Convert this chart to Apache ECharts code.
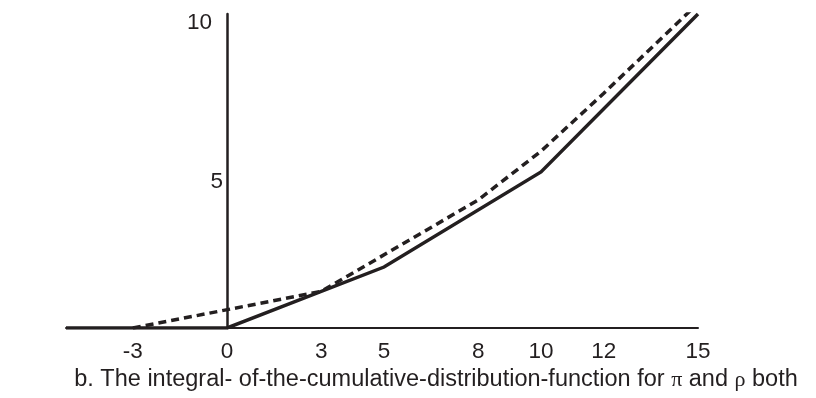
<!DOCTYPE html>
<html>
<head>
<meta charset="utf-8">
<script src="https://cdn.jsdelivr.net/npm/echarts@6/dist/echarts.min.js"></script>
<style>html,body{margin:0;padding:0;background:#fff;}#c{width:816px;height:398px;}</style>
</head>
<body>
<div id="c"></div>
<script>
const xTickLabels = [-3, 0, 3, 5, 8, 10, 12, 15];
const yTickLabels = [5, 10];
const solidX = [-5.13, 0, 5, 10, 15];
const solidY = [0, 0, 2.0, 5.12, 10.3];
const dashedX = [-3, 3, 8, 10, 12, 15];
const dashedY = [0, 1.2, 4.2, 5.8, 7.7, 10.65];
const caption = 'b. The integral- of-the-cumulative-distribution-function for {g|π} and {g|ρ} both';

const ink = '#231f20';
const xMin = -5.13;
const chart = echarts.init(document.getElementById('c'));
const gridLeft = 66, gridRight = 118;
const plotW = 816 - gridLeft - gridRight;
const zeroOffset = -plotW * (0 - xMin) / (15 - xMin);
chart.setOption({
  animation: false,
  grid: { left: gridLeft, right: gridRight, top: 14, bottom: 70 },
  title: {
    text: caption,
    left: 431, top: 363, textAlign: 'center',
    textStyle: {
      fontFamily: 'Liberation Sans', fontSize: 23.5, fontWeight: 'normal', color: ink,
      rich: { g: { fontFamily: 'Liberation Serif', fontSize: 22, color: ink } }
    }
  },
  xAxis: {
    type: 'value', min: xMin, max: 15,
    splitLine: { show: false },
    axisTick: { show: false },
    axisLine: { lineStyle: { color: ink, width: 2 } },
    axisLabel: {
      customValues: xTickLabels, margin: 12,
      fontFamily: 'Liberation Sans', fontSize: 22.5, color: ink
    }
  },
  yAxis: {
    type: 'value', min: 0, max: 10.3,
    offset: zeroOffset,
    splitLine: { show: false },
    axisTick: { show: false },
    axisLine: { show: true, onZero: false, lineStyle: { color: ink, width: 2.5 } },
    axisLabel: {
      customValues: yTickLabels, margin: 4,
      fontFamily: 'Liberation Sans', fontSize: 22.5, color: ink,
      formatter: v => v === 10 ? '{a|10}' : '{b|5}',
      rich: {
        a: { fontFamily: 'Liberation Sans', fontSize: 22.5, color: ink, padding: [0, 11, 0, 0] },
        b: { fontFamily: 'Liberation Sans', fontSize: 22.5, color: ink, padding: [12, 0, 0, 0] }
      }
    }
  },
  series: [
    {
      type: 'line', data: solidX.map((x, i) => [x, solidY[i]]),
      symbol: 'none', lineStyle: { color: ink, width: 3.5, cap: 'butt', join: 'miter' }, z: 3
    },
    {
      type: 'line', data: dashedX.map((x, i) => [x, dashedY[i]]),
      symbol: 'none', lineStyle: { color: ink, width: 3.5, type: [8, 5], cap: 'butt' }, z: 4
    }
  ]
});
</script>
</body>
</html>
